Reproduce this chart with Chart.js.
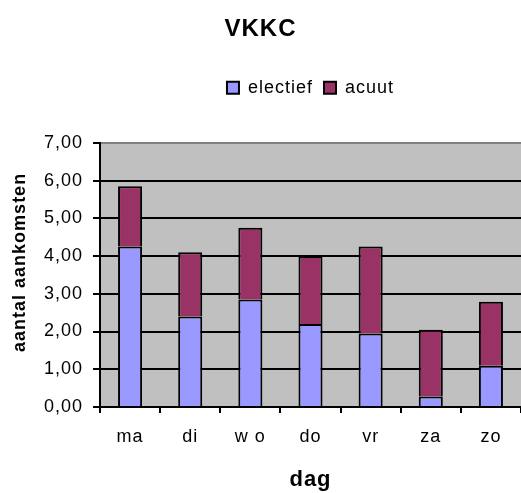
<!DOCTYPE html>
<html>
<head>
<meta charset="utf-8">
<script src="https://cdn.jsdelivr.net/npm/chart.js@4/dist/chart.umd.min.js"></script>
<style>
html,body{margin:0;padding:0;background:#fff;}
#wrap{width:521px;height:493px;position:relative;}
</style>
</head>
<body>
<div id="wrap"><canvas id="c" width="521" height="493"></canvas></div>
<script>
const categories = ["ma", "di", "w o", "do", "vr", "za", "zo"];
const electief = [4.25, 2.40, 2.85, 2.20, 1.95, 0.28, 1.09];
const acuut = [1.60, 1.70, 1.90, 1.80, 2.30, 1.77, 1.70];
const yTicks = [0, 1, 2, 3, 4, 5, 6, 7];
const seriesNames = ["electief", "acuut"];
const chartTitle = "VKKC";
const xTitle = "dag";
const yTitle = "aantal aankomsten";

const FONT = "'Liberation Sans', Arial, sans-serif";
const SPACING = '1px';

function setSpacing(chart) {
  if ('letterSpacing' in chart.ctx) chart.ctx.letterSpacing = SPACING;
}

const plotBg = {
  id: 'plotBg',
  beforeUpdate(chart) { setSpacing(chart); },
  beforeLayout(chart) { setSpacing(chart); },
  beforeDraw(chart) {
    setSpacing(chart);
    const {ctx, chartArea: a} = chart;
    ctx.save();
    ctx.fillStyle = '#C0C0C0';
    ctx.fillRect(a.left, a.top, a.right - a.left, a.bottom - a.top);
    ctx.restore();
  },
  afterDraw(chart) {
    const {ctx, chartArea: a} = chart;
    ctx.save();
    ctx.translate(20, (a.top + a.bottom) / 2 - 12.5);
    ctx.rotate(-Math.PI / 2);
    ctx.font = "bold 18px " + FONT;
    ctx.fillStyle = '#000';
    ctx.textAlign = 'center';
    ctx.textBaseline = 'middle';
    ctx.fillText(yTitle, 0, 0);
    ctx.restore();
  }
};

const legendSpace = {
  id: 'legendSpace',
  beforeInit(chart) {
    const fit = chart.legend.fit;
    chart.legend.fit = function() {
      fit.bind(chart.legend)();
      this.height += 36;
    };
  }
};

new Chart(document.getElementById('c'), {
  type: 'bar',
  data: {
    labels: categories,
    datasets: [
      { label: seriesNames[0], data: electief, backgroundColor: '#9999FF', borderColor: '#000', borderWidth: 2, barPercentage: 0.4, categoryPercentage: 1.0 },
      { label: seriesNames[1], data: acuut, backgroundColor: '#993366', borderColor: '#000', borderWidth: 2, barPercentage: 0.4, categoryPercentage: 1.0 }
    ]
  },
  options: {
    responsive: false,
    animation: false,
    devicePixelRatio: 1,
    layout: { padding: { left: 0, right: 0, top: 0, bottom: 0 } },
    plugins: {
      title: {
        display: true, text: chartTitle, color: '#000',
        font: { family: FONT, size: 24, weight: 'bold' },
        padding: { top: 15, bottom: 24 }
      },
      legend: {
        display: true, position: 'top', fullSize: false,
        labels: {
          color: '#000', boxWidth: 12, boxHeight: 12, padding: 11,
          font: { family: FONT, size: 18 }
        }
      },
      tooltip: { enabled: false }
    },
    scales: {
      x: {
        stacked: true,
        grid: { display: true, drawOnChartArea: false, drawTicks: true, tickLength: 6, color: '#000', tickColor: '#000', lineWidth: 2 },
        border: { display: true, color: '#000', width: 2 },
        ticks: { color: '#000', font: { family: FONT, size: 18 }, padding: 13, maxRotation: 0, autoSkip: false },
        title: { display: true, text: xTitle, color: '#000', font: { family: FONT, size: 22, weight: 'bold' }, padding: { top: 0, bottom: 0 } },
        afterFit(scale) { scale.height = 86; }
      },
      y: {
        stacked: true,
        min: 0, max: 7,
        afterBuildTicks(scale) { scale.ticks = yTicks.map(v => ({ value: v })); },
        grid: {
          color: (c) => (c.tick && c.tick.value === 7) ? '#808080' : '#000',
          tickColor: '#000', lineWidth: 2, tickLength: 7, drawTicks: true
        },
        border: { display: true, color: '#000', width: 2 },
        ticks: {
          color: '#000', font: { family: FONT, size: 18 }, padding: 10,
          callback: (v) => Number(v).toFixed(2).replace('.', ',')
        },
        afterFit(scale) { scale.width = 100; }
      }
    }
  },
  plugins: [plotBg, legendSpace]
});
</script>
</body>
</html>
